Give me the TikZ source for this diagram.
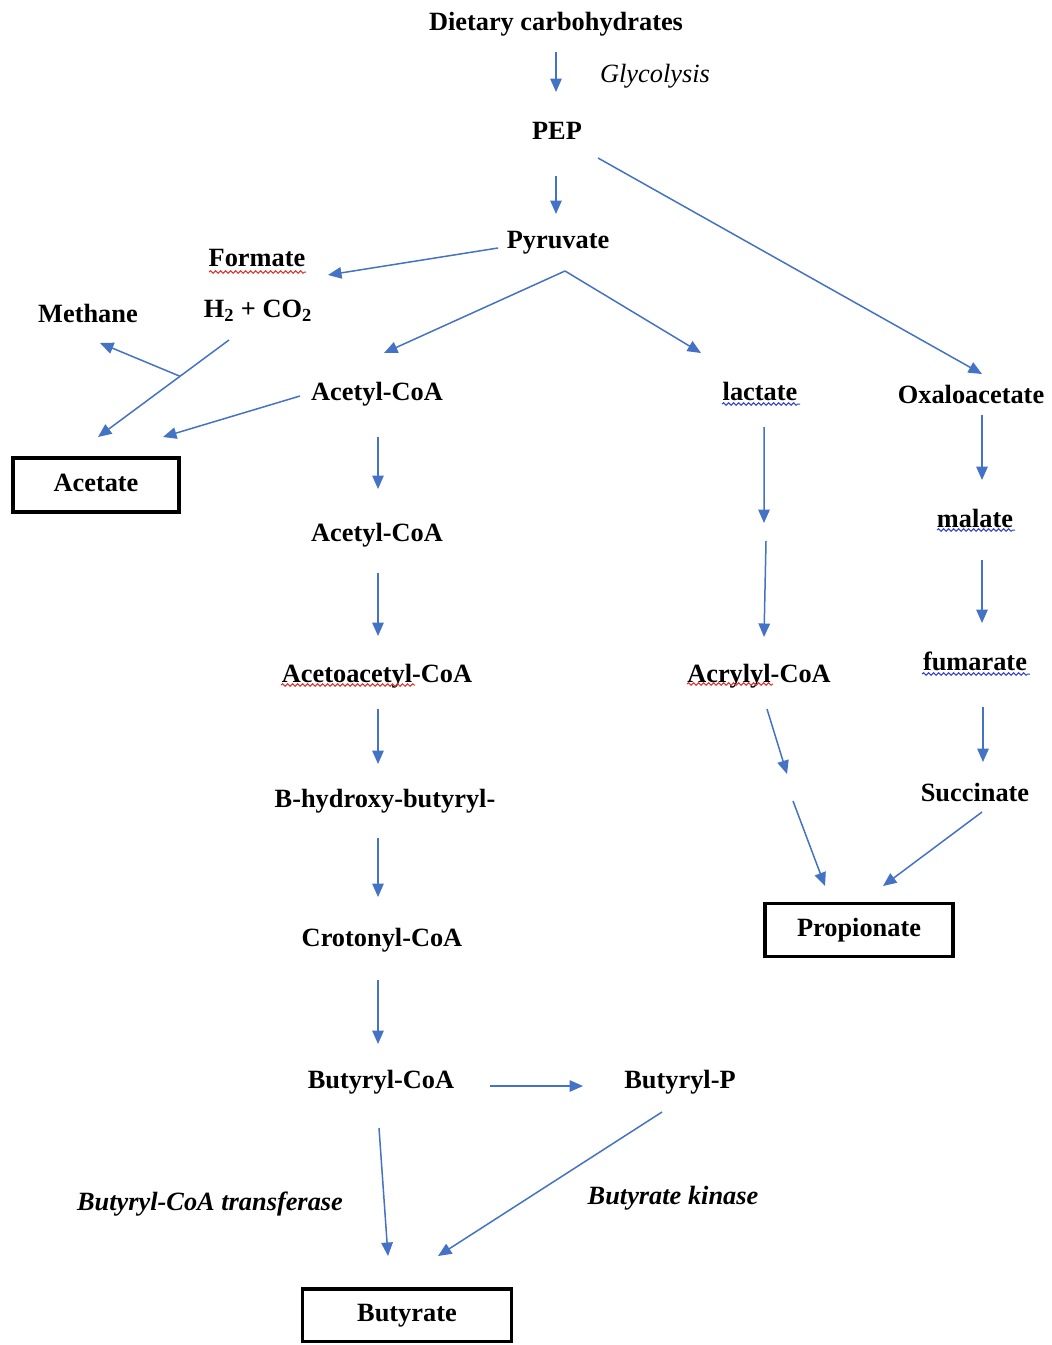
\documentclass[tikz,border=0pt]{standalone}
\usepackage{fontspec}
\setmainfont{Liberation Serif}
\usepackage{tikz}
\usetikzlibrary{calc,arrows.meta,decorations.pathmorphing}
\definecolor{flowblue}{HTML}{4472C4}
\definecolor{spellred}{HTML}{E0302A}
\definecolor{grammarblue}{HTML}{3040D0}
\tikzset{>={Triangle[length=0.27cm,width=0.23cm]}}
\tikzset{
  met/.style={font=\bfseries\fontsize{15}{18}\selectfont,inner sep=0pt,text height=12pt,text depth=2pt},
  enz/.style={font=\itshape\fontsize{15}{18}\selectfont,inner sep=0pt,text height=12pt,text depth=2pt},
  enzbold/.style={enz,font=\bfseries\itshape\fontsize{15}{18}\selectfont},
  endbox/.style={met,draw,line width=0.07cm,text height=10pt,text depth=3pt},
  flow/.style={->,flowblue,line width=0.03cm},
  squiggle/.style={color=#1,line width=0.02cm,decorate,decoration={snake,amplitude=0.025cm,segment length=0.1cm}}
}

\begin{document}
\begin{tikzpicture}[x=0.02cm,y=-0.02cm]
    \useasboundingbox (0,0) rectangle (1051,1345);
      \node[met] (diet) at (556,22) {Dietary carbohydrates};
      \node[enz] (glyc) at (655,74) {Glycolysis};
      \node[met] (pep) at (557,131) {PEP};
      \node[met] (pyr) at (558,240) {Pyruvate};
      \node[met] (formate) at (257,258) {Formate};
      \node[met] (htwo) at (258,309) {H\textsubscript{2} + CO\textsubscript{2}};
      \node[met] (methane) at (88,314) {Methane};
      \node[met] (acetyl1) at (377,392) {Acetyl-CoA};
      \node[met] (lactate) at (760,392) {lactate};
      \node[met] (oxalo) at (971,395) {Oxaloacetate};
      \node[endbox,minimum width=3.32cm,minimum height=1.08cm] (acetate) at (96,485) {Acetate};
      \node[met] (acetyl2) at (377,533) {Acetyl-CoA};
      \node[met] (malate) at (975,519) {malate};
      \node[met] (acac) at (377,674) {Acetoacetyl-CoA};
      \node[met] (acryl) at (759,674) {Acrylyl-CoA};
      \node[met] (fum) at (975,662) {fumarate};
      \node[met] (bhb) at (385,799) {B-hydroxy-butyryl-};
      \node[met] (succ) at (975,793) {Succinate};
      \node[endbox,minimum width=3.76cm,minimum height=1.06cm] (prop) at (859,930) {Propionate};
      \node[met] (croton) at (382,938) {Crotonyl-CoA};
      \node[met] (butcoa) at (381,1080) {Butyryl-CoA};
      \node[met] (butp) at (680,1080) {Butyryl-P};
      \node[enzbold] (transf) at (210,1202) {Butyryl-CoA transferase};
      \node[enzbold] (kinase) at (673,1196) {Butyrate kinase};
      \node[endbox,minimum width=4.18cm,minimum height=1.05cm] (butyrate) at (407,1315) {Butyrate};
      \coordinate (split) at ($(pyr)+(7,31)$);
      \coordinate (lacmid) at ($(lactate)!0.5!(acryl)$);
      \coordinate (acrmid) at ($(acryl)+(31,114)$);
      \coordinate (hstart) at ($(htwo)+(-29,31)$);
      \coordinate (hend) at ($(acetate)+(2,-48)$);
      \coordinate (fork) at ($(hstart)!0.374!(hend)$);
      \draw[flow] ($(diet)+(0,30)$) -- ($(pep)+(-1,-39)$);
      \draw[flow] ($(pep)+(-1,45)$) -- ($(pyr)+(-2,-26)$);
      \draw[flow] ($(pep)+(41,27)$) -- ($(oxalo)+(11,-21)$);
      \draw[flow] ($(pyr)+(-60,8)$) -- ($(formate)+(71,17)$);
      \draw[flow] (split) -- ($(acetyl1)+(7,-39)$);
      \draw[flow] (split) -- ($(lactate)+(-59,-39)$);
      \draw[flow] (hstart) -- (hend);
      \draw[flow] (fork) -- ($(methane)+(12,29)$);
      \draw[flow] ($(acetyl1)+(-77,4)$) -- ($(acetate)+(67,-48)$);
      \draw[flow] ($(acetyl1)+(1,45)$) -- ($(acetyl2)+(1,-44)$);
      \draw[flow] ($(acetyl2)+(1,40)$) -- ($(acac)+(1,-38)$);
      \draw[flow] ($(acac)+(1,35)$) -- ($(bhb)+(-7,-35)$);
      \draw[flow] ($(bhb)+(-7,39)$) -- ($(croton)+(-4,-41)$);
      \draw[flow] ($(croton)+(-4,42)$) -- ($(butcoa)+(-3,-36)$);
      \draw[flow] ($(butcoa)+(109,6)$) -- ($(butp)+(-97,6)$);
      \draw[flow] ($(butcoa)+(-2,48)$) -- ($(butyrate)+(-19,-59)$);
      \draw[flow] ($(butp)+(-18,32)$) -- ($(butyrate)+(31,-59)$);
      \draw[flow] ($(lactate)+(4,35)$) -- ($(lacmid)+(4.5,-10)$);
      \draw[flow] ($(lacmid)+(6.5,8)$) -- ($(acryl)+(5,-37)$);
      \draw[flow] ($(acryl)+(8,35)$) -- ($(acrmid)+(-3,-14)$);
      \draw[flow] ($(acrmid)+(3,13)$) -- ($(prop)+(-34,-44)$);
      \draw[flow] ($(oxalo)+(11,20)$) -- ($(malate)+(7,-39)$);
      \draw[flow] ($(malate)+(7,41)$) -- ($(fum)+(7,-39)$);
      \draw[flow] ($(fum)+(8,45)$) -- ($(succ)+(8,-31)$);
      \draw[flow] ($(succ)+(7,19)$) -- ($(prop)+(24,-44)$);
      \draw[squiggle=spellred] ($(formate)+(-48,14)$) -- ++(97,0);
      \draw[squiggle=spellred] ($(acac)+(-96,11)$) -- ++(134,0);
      \draw[squiggle=spellred] ($(acryl)+(-72,10)$) -- ++(86,0);
      \draw[squiggle=grammarblue] ($(lactate)+(-38,12)$) -- ++(78,0);
      \draw[squiggle=grammarblue] ($(malate)+(-38,11)$) -- ++(78,0);
      \draw[squiggle=grammarblue] ($(fum)+(-53,12)$) -- ++(108,0);
     \end{tikzpicture}
\end{document}
